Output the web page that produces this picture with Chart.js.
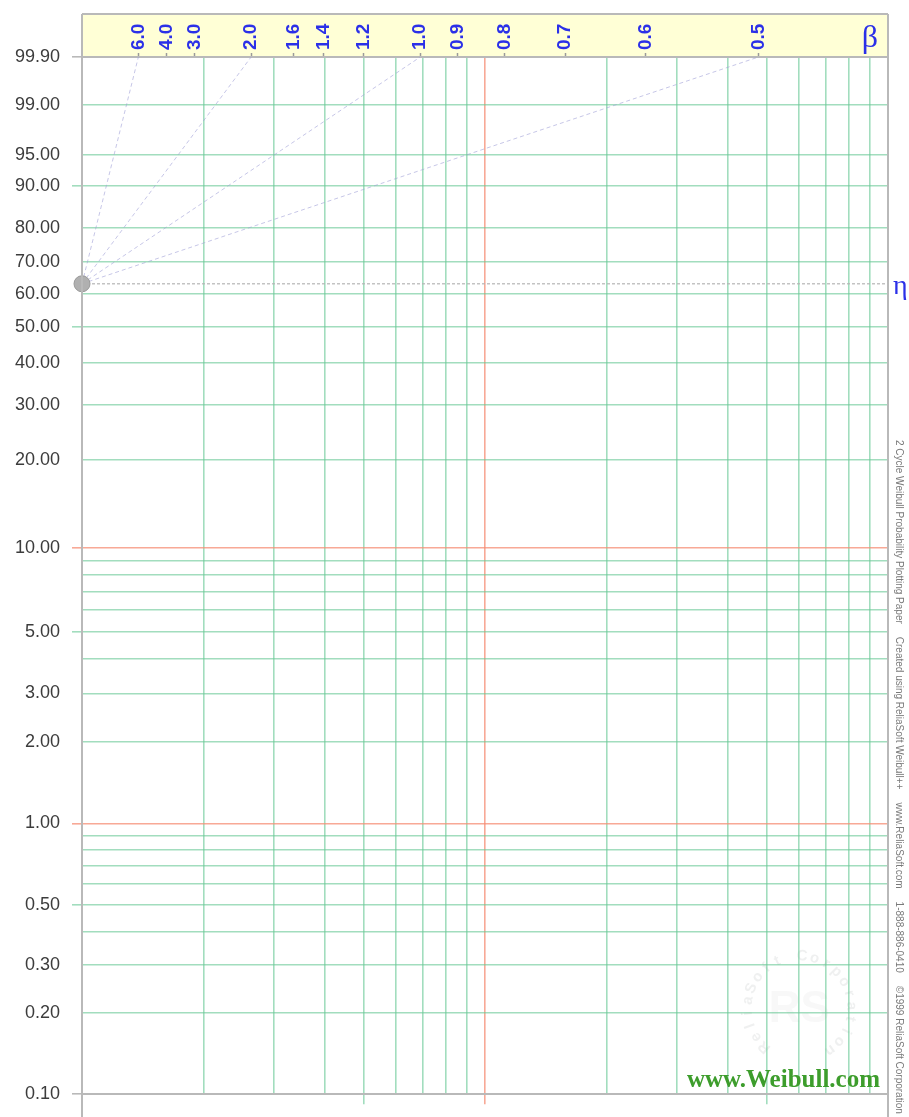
<!DOCTYPE html>
<html>
<head>
<meta charset="utf-8">
<title>2 Cycle Weibull Probability Plotting Paper</title>
<script src="https://cdn.jsdelivr.net/npm/chart.js@4.4.1/dist/chart.umd.min.js"></script>
<style>
  html, body { margin: 0; padding: 0; background: #fff; }
  canvas { display: block; }
</style>
</head>
<body>
<canvas id="paper" width="909" height="1117"></canvas>
<script>
// unreliability grid lines, in percent (top to bottom)
const probGrid = [99.9, 99, 95, 90, 80, 70, 60, 50, 40, 30, 20, 10, 9, 8, 7, 6, 5, 4, 3, 2,
  1, 0.9, 0.8, 0.7, 0.6, 0.5, 0.4, 0.3, 0.2, 0.1]
// grid lines that carry a label
const probLabels = [99.9, 99, 95, 90, 80, 70, 60, 50, 40, 30, 20, 10, 5, 3, 2, 1, 0.5, 0.3, 0.2, 0.1]
// lines with a short tick past the frame
const probShortTicks = [90, 50, 5, 0.5]
const probLongTicks = [99.9, 10, 1, 0.1]
// two log cycles of time
const timeGrid = [1, 2, 3, 4, 5, 6, 7, 8, 9, 10, 20, 30, 40, 50, 60, 70, 80, 90, 100]
const timeTicks = [5, 10, 50]
// beta scale along the top
const betaTicks = [6.0, 4.0, 3.0, 2.0, 1.6, 1.4, 1.2, 1.0, 0.9, 0.8, 0.7, 0.6, 0.5]
const betaLabels = ['6.0', '4.0', '3.0', '2.0', '1.6', '1.4', '1.2', '1.0', '0.9', '0.8', '0.7', '0.6', '0.5']
// guide rays drawn from the eta point
const betaGuides = [6.0, 2.0, 1.0, 0.5]
const etaPercent = 63.21

const sideText = ['2 Cycle Weibull Probability Plotting Paper', 'Created using ReliaSoft Weibull++',
  'www.ReliaSoft.com', '1-888-886-0410', '\u00a91999 ReliaSoft Corporation']

// Weibull probability transform
function weib(p) {
  return Math.log(-Math.log(1 - p / 100))
}

const Y_MIN = weib(0.1)
const Y_MAX = weib(99.9)
const X_MIN = 1
const X_MAX = 100
const ETA_Y = weib(etaPercent)

const GREEN = 'rgba(105, 200, 150, 0.62)'
const RED = 'rgba(245, 140, 115, 0.75)'
const FRAME = '#b9b9b9'
const BLUE = '#2b30e8'
const BETA_FONT = 19

function betaX(beta) {
  // where a line of slope beta through (1, eta) meets the 99.9% line
  return X_MIN * Math.exp((Y_MAX - ETA_Y) / beta)
}

function yGridColor(ctx) {
  const p = probGrid[ctx.index]
  if (p === 99.9 || p === 0.1) return FRAME
  if (p === 10 || p === 1) return RED
  return GREEN
}
function yTickColor(ctx) {
  const p = probGrid[ctx.index]
  if (p === 10 || p === 1) return RED
  if (probLongTicks.indexOf(p) >= 0) return FRAME
  if (probShortTicks.indexOf(p) >= 0) return GREEN
  return 'rgba(0,0,0,0)'
}
function xGridColor(ctx) {
  const t = timeGrid[ctx.index]
  if (t === X_MIN || t === X_MAX) return FRAME
  if (t === 10) return RED
  return GREEN
}
function xTickColor(ctx) {
  const t = timeGrid[ctx.index]
  if (t === 10) return RED
  if (t === X_MIN) return FRAME
  if (timeTicks.indexOf(t) >= 0) return GREEN
  return 'rgba(0,0,0,0)'
}

const guideSets = betaGuides.map(b => {
  return {
    label: 'beta ' + b,
    data: [{ x: X_MIN, y: ETA_Y }, { x: betaX(b), y: Y_MAX }],
    showLine: true,
    borderColor: 'rgba(160, 160, 215, 0.6)',
    borderWidth: 1,
    borderDash: [4, 3],
    pointRadius: 0
  }
})

const datasets = [
  {
    label: 'eta point',
    data: [{ x: X_MIN, y: ETA_Y }],
    pointRadius: 8,
    pointBackgroundColor: '#b0b0b0',
    pointBorderColor: '#9a9a9a',
    pointBorderWidth: 1,
    clip: false
  },
  ...guideSets,
  {
    label: 'eta line',
    data: [{ x: X_MIN, y: ETA_Y }, { x: X_MAX, y: ETA_Y }],
    showLine: true,
    borderColor: 'rgba(180, 180, 180, 0.8)',
    borderWidth: 1.5,
    borderDash: [3, 2],
    pointRadius: 0
  }
]

// yellow band, frame, symbols and imprint
const paperPlugin = {
  id: 'paper',
  beforeDraw(chart) {
    const { ctx, chartArea: a } = chart
    ctx.save()
    ctx.fillStyle = '#ffffff'
    ctx.fillRect(0, 0, chart.width, chart.height)
    ctx.fillStyle = '#ffffd6'
    ctx.fillRect(a.left, a.top - 43, a.right - a.left, 43)
    // watermark seal
    const cx = a.left + (a.right - a.left) * 0.89
    const cy = a.bottom - 86
    const r = 52
    const word = 'ReliaSoft Corporation'
    ctx.fillStyle = 'rgba(140, 150, 150, 0.14)'
    ctx.font = 'bold 15px "Liberation Sans", Arial, sans-serif'
    ctx.textAlign = 'center'
    ctx.textBaseline = 'middle'
    const start = (132 * Math.PI) / 180
    const span = (282 * Math.PI) / 180
    for (let i = 0; i < word.length; i++) {
      const ang = start + (span * i) / (word.length - 1)
      ctx.save()
      ctx.translate(cx + r * Math.cos(ang), cy + r * Math.sin(ang))
      ctx.rotate(ang + Math.PI / 2)
      ctx.fillText(word[i], 0, 0)
      ctx.restore()
    }
    ctx.fillStyle = 'rgba(150, 160, 160, 0.07)'
    ctx.font = 'bold 44px "Liberation Sans", Arial, sans-serif'
    ctx.fillText('RS', cx, cy + 2)
    ctx.restore()
  },
  afterDraw(chart) {
    const { ctx, chartArea: a } = chart
    ctx.save()
    ctx.strokeStyle = FRAME
    ctx.lineWidth = 2
    ctx.beginPath()
    ctx.moveTo(a.left, a.top - 43)
    ctx.lineTo(a.right, a.top - 43)
    ctx.moveTo(a.left, a.top - 43)
    ctx.lineTo(a.left, chart.height)
    ctx.moveTo(a.right, a.top - 43)
    ctx.lineTo(a.right, chart.height)
    ctx.stroke()

    ctx.fillStyle = BLUE
    ctx.textAlign = 'center'
    ctx.textBaseline = 'alphabetic'
    ctx.font = '32px "Liberation Serif", "DejaVu Serif", serif'
    ctx.fillText('\u03b2', a.right - 18, a.top - 10)
    ctx.textAlign = 'left'
    ctx.font = '28px "Liberation Serif", "DejaVu Serif", serif'
    ctx.fillText('\u03b7', a.right + 5, chart.scales.y.getPixelForValue(ETA_Y) + 10)

    // imprint down the right edge
    ctx.save()
    ctx.translate(a.right + 11, 440)
    ctx.rotate(Math.PI / 2)
    ctx.fillStyle = '#7a7a7a'
    ctx.font = '10px "Liberation Sans", Arial, sans-serif'
    ctx.textBaseline = 'middle'
    let pos = 0
    for (const part of sideText) {
      ctx.fillText(part, pos, 0)
      pos += ctx.measureText(part).width + 13
    }
    ctx.restore()

    ctx.fillStyle = '#3d9d2c'
    ctx.textAlign = 'right'
    ctx.font = 'bold 25px "Liberation Serif", "DejaVu Serif", serif'
    ctx.fillText('www.Weibull.com', a.right - 8, a.bottom - 7)
    ctx.restore()
  }
}

const config = {
  type: 'scatter',
  data: { datasets: datasets },
  options: {
    responsive: false,
    animation: false,
    events: [],
    layout: { padding: { left: 0, right: 21, top: 0, bottom: 0 } },
    plugins: {
      legend: { display: false },
      tooltip: { enabled: false }
    },
    scales: {
      x: {
        type: 'logarithmic',
        position: 'bottom',
        min: X_MIN,
        max: X_MAX,
        afterBuildTicks: scale => {
          scale.ticks = timeGrid.map(v => ({ value: v }))
        },
        afterFit: scale => {
          scale.height = 13
        },
        ticks: { display: false },
        grid: {
          color: xGridColor,
          tickColor: xTickColor,
          lineWidth: 1.6,
          tickWidth: 1.6,
          tickLength: 10
        },
        border: { color: FRAME, width: 2 }
      },
      beta: {
        type: 'logarithmic',
        position: 'top',
        min: X_MIN,
        max: X_MAX,
        afterBuildTicks: scale => {
          scale.ticks = betaTicks.map(b => ({ value: betaX(b) }))
        },
        afterFit: scale => {
          scale.height = 57
        },
        ticks: {
          autoSkip: false,
          minRotation: 90,
          maxRotation: 90,
          padding: 3,
          // rotated labels on a top axis sit one line height to the left
          labelOffset: BETA_FONT * 1.2,
          color: BLUE,
          font: { family: '"Liberation Sans", Arial, sans-serif', size: BETA_FONT, weight: 'bold' },
          callback: (val, index) => betaLabels[index]
        },
        grid: {
          drawOnChartArea: false,
          tickLength: 4,
          tickColor: '#9a9a9a',
          tickWidth: 1.5
        },
        border: { color: FRAME, width: 2 }
      },
      y: {
        type: 'linear',
        min: Y_MIN,
        max: Y_MAX,
        afterBuildTicks: scale => {
          scale.ticks = probGrid.map(p => ({ value: weib(p) }))
        },
        afterFit: scale => {
          scale.width = 82
        },
        ticks: {
          autoSkip: false,
          padding: 12,
          color: '#3c3c3c',
          font: { family: '"Liberation Sans", Arial, sans-serif', size: 18 },
          callback: (val, index) => {
            const p = probGrid[index]
            return probLabels.indexOf(p) >= 0 ? p.toFixed(2) : ''
          }
        },
        grid: {
          color: yGridColor,
          tickColor: yTickColor,
          lineWidth: 1.6,
          tickWidth: 1.6,
          tickLength: 10
        },
        border: { color: FRAME, width: 2 }
      }
    }
  },
  plugins: [paperPlugin]
}

const ctx = document.getElementById('paper').getContext('2d')
new Chart(ctx, config)
</script>
</body>
</html>
